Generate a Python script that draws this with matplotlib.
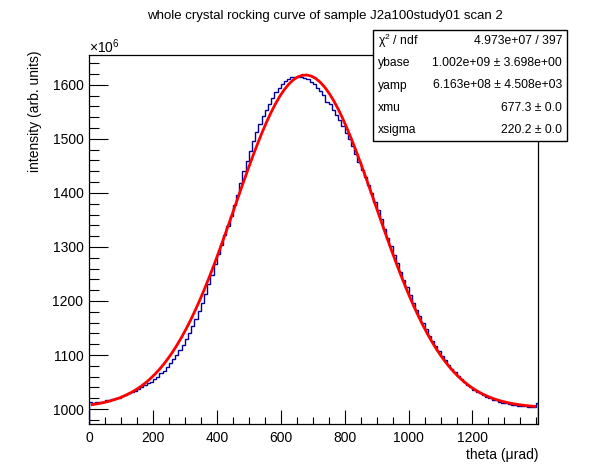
import numpy as np
import matplotlib
matplotlib.use("Agg")
import matplotlib.pyplot as plt
from matplotlib.ticker import MultipleLocator

plt.rcParams["font.family"] = ["Liberation Sans", "DejaVu Sans"]
plt.rcParams["mathtext.fontset"] = "custom"
plt.rcParams["mathtext.rm"] = "Liberation Sans"
plt.rcParams["mathtext.it"] = "Liberation Sans"

# histogram: 10 urad bins from 0 to 1400, plus a short last bin at the edge
bin_edges = list(range(0, 1410, 10)) + [1405]
counts = [
    1013, 1012, 1013, 1014, 1014, 1016, 1017, 1018, 1020, 1021,
    1024, 1026, 1029, 1031, 1034, 1037, 1040, 1044, 1048, 1051,
    1056, 1060, 1066, 1071, 1078, 1085, 1093, 1101, 1110, 1119,
    1130, 1141, 1154, 1167, 1181, 1196, 1213, 1231, 1249, 1268,
    1287, 1304, 1322, 1339, 1358, 1377, 1397, 1419, 1440, 1459,
    1478, 1496, 1512, 1528, 1542, 1554, 1565, 1576, 1586, 1595,
    1602, 1607, 1611, 1614, 1615, 1615, 1615, 1613, 1610, 1606,
    1601, 1595, 1589, 1581, 1568, 1564, 1554, 1545, 1534, 1523,
    1511, 1499, 1486, 1472, 1457, 1443, 1429, 1414, 1399, 1383,
    1368, 1351, 1333, 1317, 1301, 1286, 1270, 1254, 1239, 1225,
    1211, 1196, 1184, 1172, 1159, 1148, 1136, 1126, 1116, 1107,
    1098, 1090, 1082, 1075, 1068, 1062, 1056, 1050, 1045, 1041,
    1036, 1032, 1029, 1026, 1023, 1020, 1017, 1016, 1014, 1012,
    1011, 1009, 1008, 1007, 1006, 1005, 1005, 1004, 1004, 1003,
    1012,
]

# fit result (intensity in units of 1e6)
ybase = 1002.0
yamp = 616.3
xmu = 677.3
xsigma = 220.2
fit_lo, fit_hi = 10, 1395

stats_names = ["χ$^{2}$ / ndf", "ybase", "yamp", "xmu", "xsigma"]
stats_values = ["4.973e+07 / 397", "1.002e+09 ± 3.698e+00",
                "6.163e+08 ± 4.508e+03", "677.3 ± 0.0",
                "220.2 ± 0.0"]

fig = plt.figure(figsize=(5.96, 4.72), dpi=100)
ax = fig.add_axes([89 / 596, 1 - 424 / 472, 449 / 596, 369 / 472])

ax.stairs(counts, bin_edges, color="#000099", linewidth=1.0)

xf = np.linspace(fit_lo, fit_hi, 100)
yf = ybase + yamp * np.exp(-0.5 * ((xf - xmu) / xsigma) ** 2)
ax.plot(xf, yf, color="red", linewidth=2.0)

ax.set_xlim(0, 1405)
ax.set_ylim(972.4, 1655.2)
ax.xaxis.set_major_locator(MultipleLocator(200))
ax.xaxis.set_minor_locator(MultipleLocator(50))
ax.yaxis.set_major_locator(MultipleLocator(100))
ax.yaxis.set_minor_locator(MultipleLocator(20))
ax.tick_params(which="both", direction="in", top=False, right=False,
               labelsize=10, width=0.8)
ax.tick_params(axis="x", which="major", length=10, pad=5)
ax.tick_params(axis="x", which="minor", length=5)
ax.tick_params(axis="y", which="major", length=14, pad=4)
ax.tick_params(axis="y", which="minor", length=7)
ax.set_xticks([0, 200, 400, 600, 800, 1000, 1200])
for s in ax.spines.values():
    s.set_linewidth(0.9)

ax.set_xlabel("theta (μrad)", fontsize=10, loc="right", labelpad=2)
fig.text(35 / 596, 1 - 50 / 472, "intensity (arb. units)", rotation=90,
         ha="center", va="top", fontsize=10)
fig.text(89 / 596, 1 - 53 / 472, "×10$^{6}$", ha="left",
         va="baseline", fontsize=10)
fig.text(325 / 596, 1 - 16 / 472,
         "whole crystal rocking curve of sample J2a100study01 scan 2",
         ha="center", va="center", fontsize=9.5)

# stats box
bx0, bx1 = 373 / 596, 567 / 596
by0, by1 = 1 - 141 / 472, 1 - 30 / 472
fig.patches.append(plt.Rectangle((bx0, by0), bx1 - bx0, by1 - by0,
                                 transform=fig.transFigure, facecolor="white",
                                 edgecolor="black", linewidth=1.0, zorder=5))
row_h = (by1 - by0) / 5
for i in range(5):
    yy = by1 - (i + 0.5) * row_h
    fig.text(bx0 + 5 / 596, yy, stats_names[i], ha="left", va="center",
             fontsize=8.7, zorder=6)
    fig.text(bx1 - 5 / 596, yy, stats_values[i], ha="right", va="center",
             fontsize=8.7, zorder=6)

fig.savefig("out.png", dpi=100)
